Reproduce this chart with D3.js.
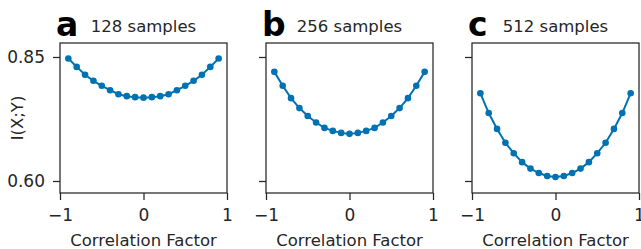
<!DOCTYPE html>
<html>
<head>
<meta charset="utf-8">
<script src="https://cdn.jsdelivr.net/npm/d3@7"></script>
<style>
  html, body { margin: 0; padding: 0; background: #fff; }
  svg text { font-family: "DejaVu Sans", sans-serif; fill: #262626; }
</style>
</head>
<body>
<div id="chart"></div>
<script>
(function(){
    "use strict"

    var width = 641;
    var height = 249;

    // correlation factor on x, mutual information on y
    var corr = [-0.9, -0.8, -0.7, -0.6, -0.5, -0.4, -0.3, -0.2, -0.1, 0, 0.1, 0.2, 0.3, 0.4, 0.5, 0.6, 0.7, 0.8, 0.9];
    var mi128 = [0.847, 0.830, 0.814, 0.802, 0.792, 0.783, 0.775, 0.771, 0.769, 0.768, 0.769, 0.771, 0.775, 0.783, 0.792, 0.802, 0.814, 0.830, 0.847];
    var mi256 = [0.820, 0.792, 0.767, 0.747, 0.731, 0.718, 0.707, 0.701, 0.697, 0.695, 0.697, 0.701, 0.707, 0.718, 0.731, 0.747, 0.767, 0.792, 0.820];
    var mi512 = [0.777, 0.737, 0.705, 0.677, 0.656, 0.638, 0.625, 0.616, 0.610, 0.608, 0.610, 0.616, 0.625, 0.638, 0.656, 0.677, 0.705, 0.737, 0.777];

    var panelLetters = ["a", "b", "c"];
    var panelTitles = ["128 samples", "256 samples", "512 samples"];
    var xTicks = [-1, 0, 1];
    var yTicks = [0.60, 0.85];

    var series = [mi128, mi256, mi512];

    var color = "#0072b2";
    var ink = "#262626";

    var top = 43, bottom = 193, pw = 167;
    var lefts = [60, 266, 472];

    var svg = d3.select("#chart").append("svg")
        .attr("width", width)
        .attr("height", height);

    var y = d3.scaleLinear().domain([0.5758, 0.8782]).range([bottom, top]);

    series.forEach(function(vals, p) {
        var x = d3.scaleLinear().domain([-1, 1]).range([lefts[p], lefts[p] + pw]);
        var g = svg.append("g");

        var xAxis = g.append("g")
            .attr("transform", "translate(0," + bottom + ")")
            .call(d3.axisBottom(x).tickValues(xTicks).tickSize(7).tickPadding(9)
                .tickFormat(function(d){ return d < 0 ? "\u2212" + Math.abs(d) : d; }));

        var yAxis = g.append("g")
            .attr("transform", "translate(" + lefts[p] + ",0)")
            .call(d3.axisLeft(y).tickValues(yTicks).tickSize(7).tickPadding(8)
                .tickFormat(p === 0 ? d3.format(".2f") : function(){ return ""; }));

        [xAxis, yAxis].forEach(function(ax) {
            ax.attr("font-size", null).attr("font-family", null);
            ax.select(".domain").remove();
            ax.selectAll(".tick line").attr("stroke", ink).attr("stroke-width", 1.25);
            ax.selectAll(".tick text")
                .style("font-size", "17px")
                .style("fill", ink);
        });

        // frame
        g.append("rect")
            .attr("x", lefts[p]).attr("y", top)
            .attr("width", pw).attr("height", bottom - top)
            .attr("fill", "none").attr("stroke", ink).attr("stroke-width", 1.25);

        var line = d3.line()
            .x(function(d, i){ return x(corr[i]); })
            .y(function(d){ return y(d); });

        g.append("path")
            .datum(vals)
            .attr("d", line)
            .attr("fill", "none")
            .attr("stroke", color)
            .attr("stroke-width", 2);

        g.selectAll("circle.pt")
            .data(vals)
            .enter().append("circle")
            .attr("class", "pt")
            .attr("cx", function(d, i){ return x(corr[i]); })
            .attr("cy", function(d){ return y(d); })
            .attr("r", 3.3)
            .attr("fill", color);

        g.append("text")
            .attr("x", lefts[p] + pw / 2)
            .attr("y", 32)
            .attr("text-anchor", "middle")
            .style("font-size", "16.5px")
            .text(panelTitles[p]);

        g.append("text")
            .attr("x", lefts[p] - 4)
            .attr("y", 36)
            .style("font-size", "33px")
            .style("font-weight", "bold")
            .style("fill", "#000")
            .text(panelLetters[p]);

        g.append("text")
            .attr("x", lefts[p] + pw / 2)
            .attr("y", 246)
            .attr("text-anchor", "middle")
            .style("font-size", "16.5px")
            .text("Correlation Factor");
    });

    svg.append("text")
        .attr("transform", "translate(23," + (top + bottom) / 2 + ") rotate(-90)")
        .attr("text-anchor", "middle")
        .style("font-size", "16.5px")
        .text("I(X;Y)");

}());
</script>
</body>
</html>
